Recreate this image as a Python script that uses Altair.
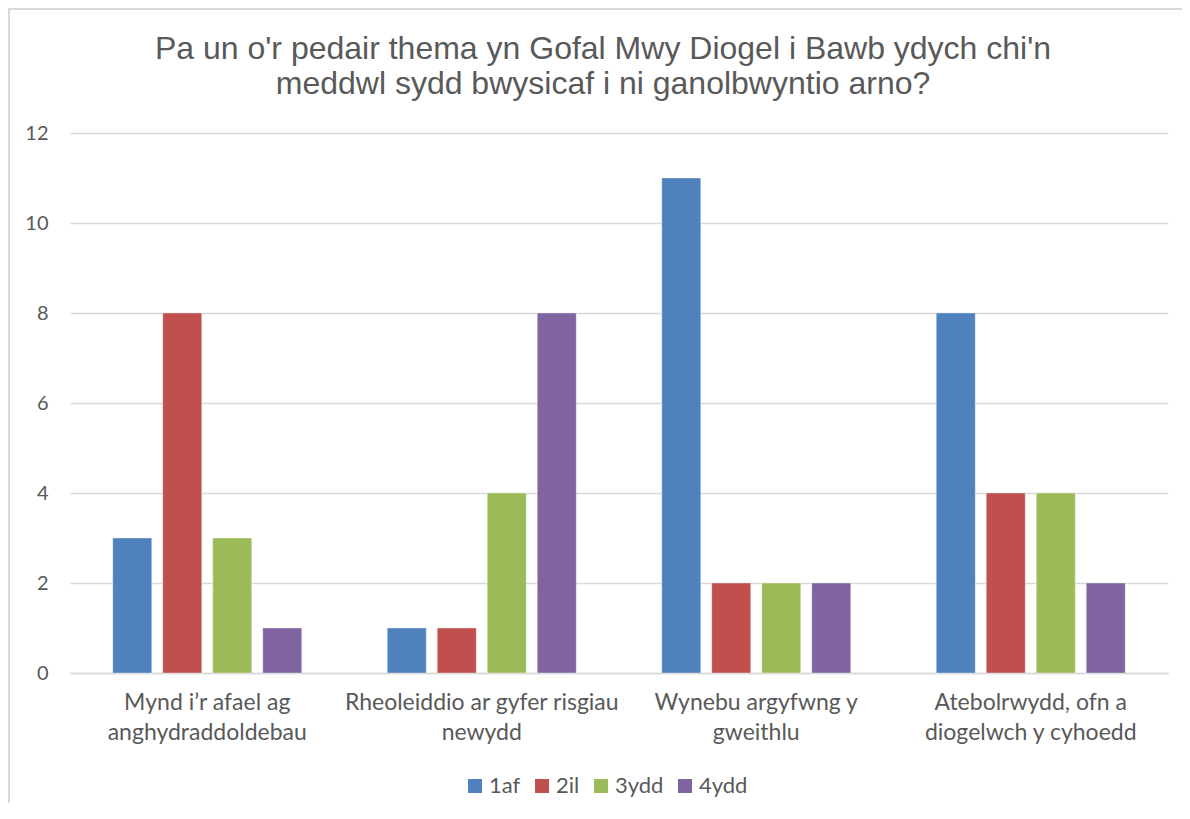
import altair as alt
import pandas as pd

title_lines = [
    "Pa un o'r pedair thema yn Gofal Mwy Diogel i Bawb ydych chi'n",
    "meddwl sydd bwysicaf i ni ganolbwyntio arno?",
]
categories = [
    "Mynd i’r afael ag|anghydraddoldebau",
    "Rheoleiddio ar gyfer risgiau|newydd",
    "Wynebu argyfwng y|gweithlu",
    "Atebolrwydd, ofn a|diogelwch y cyhoedd",
]
series = ["1af", "2il", "3ydd", "4ydd"]
values_1af = [3, 1, 11, 8]
values_2il = [8, 1, 2, 4]
values_3ydd = [3, 4, 2, 4]
values_4ydd = [1, 8, 2, 2]
colors = ["#4F81BD", "#C0504D", "#9BBB59", "#8064A2"]
y_ticks = [0, 2, 4, 6, 8, 10, 12]

rows = []
for s, vals in zip(series, [values_1af, values_2il, values_3ydd, values_4ydd]):
    for c, v in zip(categories, vals):
        rows.append({"category": c, "series": s, "value": v})
df = pd.DataFrame(rows)

FONT = "Lato"
TXT = "#595959"

bars = alt.Chart(df).mark_bar(stroke="#ffffff", strokeWidth=0.6, strokeOpacity=0.6).encode(
    x=alt.X("category:N", sort=categories,
            scale=alt.Scale(paddingInner=0, paddingOuter=0),
            axis=alt.Axis(title=None, labelAngle=0, ticks=False, domainColor="#d9d9d9",
                          domainWidth=1.5, labelExpr="split(datum.label, '|')",
                          labelFont=FONT, labelFontSize=23, labelColor=TXT, labelLimit=400,
                          labelLineHeight=30, labelPadding=18, labelBaseline="top")),
    xOffset=alt.XOffset("series:N", sort=series,
                        scale=alt.Scale(paddingInner=0.22, paddingOuter=0.855)),
    y=alt.Y("value:Q", scale=alt.Scale(domain=[0, 12]),
            axis=alt.Axis(title=None, values=y_ticks, ticks=False, domain=False,
                          gridColor="#d9d9d9", gridWidth=1.3,
                          labelFont=FONT, labelFontSize=20, labelColor=TXT,
                          labelPadding=22)),
    color=alt.Color("series:N", sort=series,
                    scale=alt.Scale(domain=series, range=colors),
                    legend=alt.Legend(title=None, orient="none", direction="horizontal",
                                      legendX=394, legendY=642, symbolType="square",
                                      symbolSize=196, symbolStrokeWidth=0,
                                      labelFont=FONT, labelFontSize=22, labelColor=TXT,
                                      labelOffset=3, columnPadding=10, padding=0)),
)

frame = alt.Chart(pd.DataFrame({"k": [0]})).mark_rect(
    fillOpacity=0, stroke="#d9d9d9", strokeWidth=2
).encode(
    x=alt.value(-61), y=alt.value(-124), x2=alt.value(1300), y2=alt.value(900)
)

title = alt.Chart(pd.DataFrame({"t": ["|".join(title_lines)]})).mark_text(
    align="center", baseline="top", lineBreak="|", font="Liberation Sans",
    fontSize=32, lineHeight=35, color=TXT
).encode(
    text="t:N", x=alt.value(533), y=alt.value(-99)
)

chart = alt.layer(frame, title, bars).properties(
    width=1098,
    height=540,
    autosize=alt.AutoSizeParams(type="none"),
    padding={"left": 62, "top": 125, "right": 14, "bottom": 130},
).configure_view(stroke=None)

chart.save("out.html", embed_options={"renderer": "svg", "actions": False})
